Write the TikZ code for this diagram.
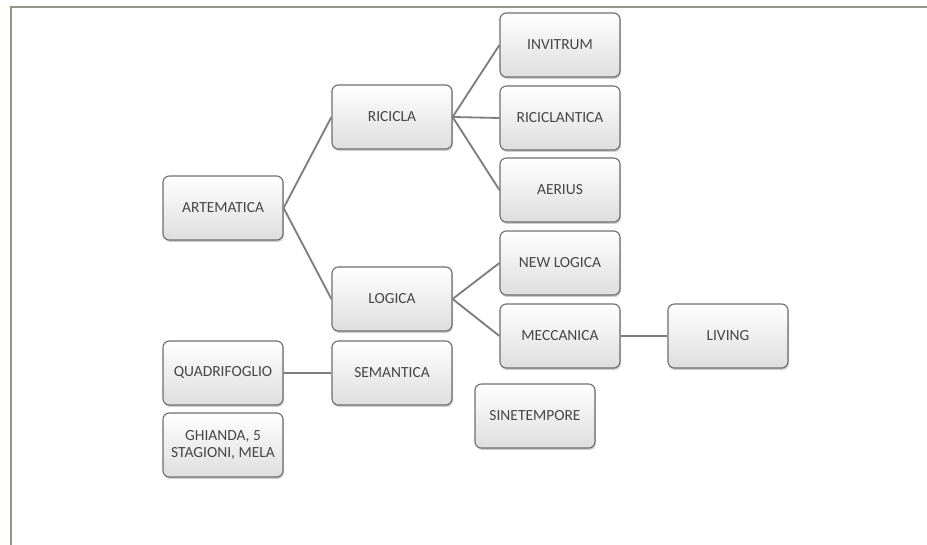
\documentclass[tikz,border=0pt]{standalone}
\usepackage{fontspec}
\setmainfont{Carlito}
\usetikzlibrary{shadows}
\definecolor{boxline}{RGB}{110,110,110}
\definecolor{boxtext}{RGB}{70,70,70}
\definecolor{linkgray}{RGB}{125,125,125}
\definecolor{framegray}{RGB}{150,147,138}

\tikzset{link/.style={draw=linkgray, line width=1.3pt}}

\begin{document}
\begin{tikzpicture}[x=0.025cm,y=-0.025cm]
  \useasboundingbox (0,0) rectangle (927,545);
  \draw[framegray, line width=2pt] (927,7) -- (11,7) -- (11,545);
    \begin{scope}[every node/.style={draw=boxline, line width=0.8pt, rounded corners=1.6mm, top color=white, bottom color=black!13, drop shadow={opacity=0.4, shadow xshift=0.6pt, shadow yshift=-1.4pt}, minimum width=3cm, minimum height=1.6cm, align=center, text=boxtext, font=\fontsize{11}{12.5}\selectfont}]
  \node(ART) at (223,208) {ARTEMATICA};
  \node(RIC) at (392,117) {RICICLA};
  \node(LOG) at (392,299) {LOGICA};
  \node(INV) at (560,45)  {INVITRUM};
  \node(RCL) at (560,118) {RICICLANTICA};
  \node(AER) at (560,190) {AERIUS};
  \node(NLG) at (560,263) {NEW LOGICA};
  \node(MEC) at (560,336) {MECCANICA};
  \node(LIV) at (728,336) {LIVING};
  \node(QUA) at (223,373) {QUADRIFOGLIO};
  \node(SEM) at (392,373) {SEMANTICA};
  \node(GHI) at (223,445) {GHIANDA, 5\\STAGIONI, MELA};
  \node(SIN) at (535,416) {SINETEMPORE};
    \end{scope}
  \draw[link] (ART.east) -- (RIC.west);
  \draw[link] (ART.east) -- (LOG.west);
  \draw[link] (RIC.east) -- (INV.west);
  \draw[link] (RIC.east) -- (RCL.west);
  \draw[link] (RIC.east) -- (AER.west);
  \draw[link] (LOG.east) -- (NLG.west);
  \draw[link] (LOG.east) -- (MEC.west);
  \draw[link] (MEC.east) -- (LIV.west);
  \draw[link] (QUA.east) -- (SEM.west);
  \end{tikzpicture}
\end{document}
